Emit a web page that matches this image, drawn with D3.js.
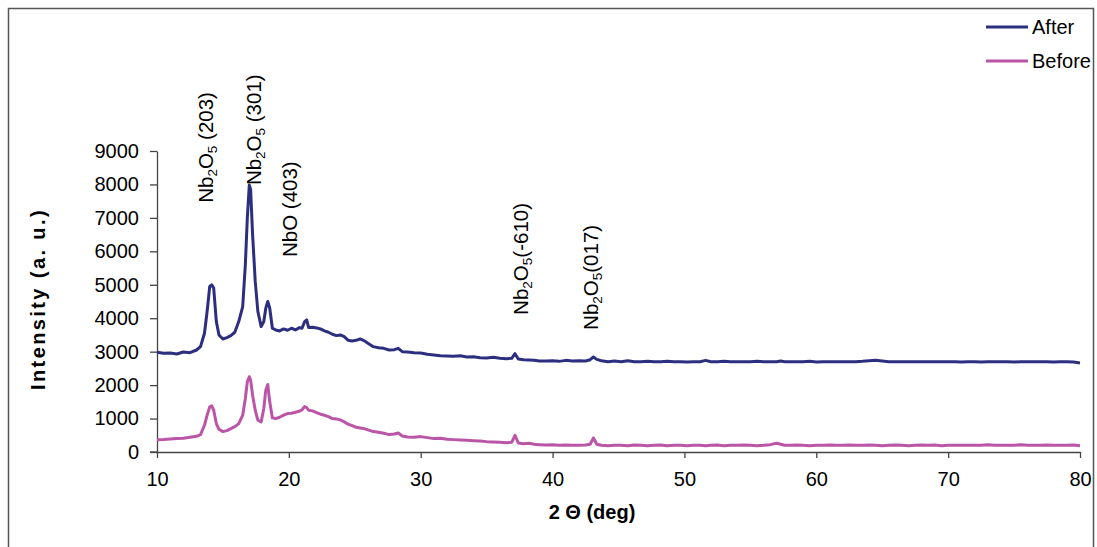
<!DOCTYPE html>
<html>
<head>
<meta charset="utf-8">
<script src="https://cdn.jsdelivr.net/npm/d3@7"></script>
<style>
  body { margin: 0; background: #fff; }
  svg text { font-family: Arial, "Liberation Sans", sans-serif; fill: #000; }
</style>
</head>
<body>
<div class="chart"></div>
<script>
// 2 theta positions (deg), shared by both scans
const twoTheta = [
  10, 10.5, 11, 11.5, 12, 12.5, 13, 13.3, 13.6, 13.8,
  14.0, 14.15, 14.3, 14.5, 14.7, 15.0, 15.3, 15.6, 15.9, 16.2,
  16.5, 16.7, 16.85, 17.0, 17.1, 17.25, 17.45, 17.65, 17.9, 18.1,
  18.25, 18.4, 18.55, 18.75, 19.0, 19.3, 19.6, 19.9, 20.2, 20.5,
  20.8, 21.0, 21.2, 21.35, 21.5, 21.8, 22.1, 22.4, 22.7, 23.0,
  23.3, 23.6, 23.9, 24.2, 24.5, 24.8, 25.1, 25.4, 25.7, 26.0,
  26.4, 26.8, 27.2, 27.6, 28.0, 28.3, 28.6, 29.0, 29.5, 30.0,
  30.5, 31.0, 31.5, 32.0, 32.5, 33.0, 33.5, 34.0, 34.5, 35.0,
  35.5, 36.0, 36.5, 36.9, 37.15, 37.4, 37.8, 38.2, 38.6, 39.0,
  39.5, 40.0, 40.5, 41.0, 41.5, 42.0, 42.5, 42.85, 43.1, 43.35,
  43.7, 44.2, 44.7, 45.2, 45.7, 46.2, 46.7, 47.2, 47.7, 48.2,
  48.7, 49.2, 49.7, 50.2, 50.7, 51.2, 51.6, 52.0, 52.5, 53.0,
  53.5, 54.0, 54.5, 55.0, 55.5, 56.0, 56.5, 57.0, 57.3, 57.6,
  58.0, 58.5, 59.0, 59.5, 60.0, 60.5, 61.0, 61.5, 62.0, 62.5,
  63.0, 63.5, 64.0, 64.5, 65.0, 65.5, 66.0, 66.5, 67.0, 67.5,
  68.0, 68.5, 69.0, 69.5, 70.0, 70.5, 71.0, 71.5, 72.0, 72.5,
  73.0, 73.5, 74.0, 74.5, 75.0, 75.5, 76.0, 76.5, 77.0, 77.5,
  78.0, 78.5, 79.0, 79.5, 80.0
];

// intensity after treatment
const afterIntensity = [
  2980, 2950, 2960, 2930, 2990, 2970, 3050, 3150, 3550, 4200,
  4950, 5000, 4900, 3900, 3500, 3380, 3420, 3480, 3580, 3900,
  4350, 5600, 7000, 7980, 7850, 6500, 5100, 4200, 3750, 3900,
  4300, 4500, 4300, 3700, 3650, 3620, 3680, 3640, 3700, 3650,
  3720, 3700, 3900, 3950, 3720, 3730, 3710, 3680, 3620, 3580,
  3520, 3480, 3500, 3450, 3340, 3320, 3340, 3380, 3330, 3250,
  3150, 3120, 3100, 3050, 3060, 3100, 3000, 2990, 2970, 2960,
  2920, 2900, 2880, 2870, 2860, 2880, 2840, 2850, 2820, 2810,
  2830, 2800, 2790, 2800, 2940, 2780, 2760, 2750, 2740, 2720,
  2720, 2730, 2710, 2740, 2720, 2730, 2720, 2760, 2840, 2770,
  2730, 2700, 2720, 2700, 2730, 2700, 2700, 2710, 2700, 2700,
  2710, 2700, 2700, 2690, 2700, 2700, 2740, 2700, 2700, 2710,
  2700, 2700, 2700, 2700, 2710, 2700, 2700, 2700, 2720, 2700,
  2700, 2700, 2700, 2710, 2690, 2700, 2700, 2700, 2700, 2700,
  2700, 2710, 2730, 2740, 2720, 2700, 2700, 2700, 2700, 2700,
  2700, 2700, 2700, 2700, 2700, 2700, 2690, 2700, 2700, 2690,
  2700, 2700, 2700, 2700, 2690, 2700, 2700, 2700, 2700, 2700,
  2690, 2700, 2700, 2690, 2660
];

// intensity before treatment
const beforeIntensity = [
  370, 375, 390, 400, 410, 440, 470, 520, 800, 1100,
  1350, 1380, 1250, 850, 680, 610, 640, 700, 760, 850,
  1100, 1600, 2100, 2250, 2150, 1700, 1250, 950, 900, 1300,
  1850, 2020, 1500, 1020, 1000, 1040, 1100, 1150, 1160, 1190,
  1220, 1260, 1360, 1330, 1250, 1230, 1180, 1130, 1100, 1060,
  1000, 990, 960, 900, 830, 790, 740, 720, 700, 660,
  610, 590, 560, 520, 540, 570, 480, 450, 440, 460,
  430, 400, 410, 380, 370, 360, 350, 340, 330, 310,
  300, 290, 280, 290, 500, 270, 250, 260, 230, 220,
  210, 220, 200, 210, 200, 200, 210, 230, 420, 230,
  200, 190, 200, 200, 190, 210, 200, 190, 200, 210,
  190, 200, 200, 190, 200, 200, 190, 200, 210, 190,
  200, 200, 210, 200, 190, 200, 220, 260, 230, 200,
  200, 210, 200, 190, 200, 200, 210, 200, 200, 210,
  200, 200, 210, 200, 190, 200, 210, 200, 190, 200,
  210, 200, 210, 190, 200, 200, 200, 200, 200, 200,
  220, 200, 200, 200, 200, 220, 200, 200, 200, 210,
  200, 200, 200, 210, 190
];

const seriesNames = ['After', 'Before'];
const xTicks = [10, 20, 30, 40, 50, 60, 70, 80];
const yTicks = [0, 1000, 2000, 3000, 4000, 5000, 6000, 7000, 8000, 9000];

// peak labels: phase, subscripts, hkl, anchored at (2theta, intensity) where the text starts
const peakPhases = [['Nb', '2', 'O', '5', ' (203)'], ['Nb', '2', 'O', '5', ' (301)'], ['NbO (403)'], ['Nb', '2', 'O', '5', '(-610)'], ['Nb', '2', 'O', '5', '(017)']];
const peakTheta = [13.72, 17.36, 20.09, 37.6, 42.9];
const peakLevel = [7450, 7980, 5830, 4100, 3650];

const width = 1097, height = 547;
const colors = { After: '#2c2f80', Before: '#bb55a8' };

const svg = d3.select('.chart').append('svg').attr('width', width).attr('height', height);

svg.append('rect').attr('width', width).attr('height', height).attr('fill', '#fff');

// outer frame
svg.append('rect')
    .attr('x', 8.5).attr('y', 8.5)
    .attr('width', 1085).attr('height', 560)
    .attr('fill', 'none').attr('stroke', '#555').attr('stroke-width', 1.5);

const x = d3.scaleLinear().domain([10, 80]).range([157, 1080]);
const y = d3.scaleLinear().domain([0, 9000]).range([452, 151]);

// axes
const xAxis = svg.append('g').attr('transform', 'translate(0,452)')
    .call(d3.axisBottom(x).tickValues(xTicks).tickSize(6).tickSizeOuter(0).tickPadding(14));
const yAxis = svg.append('g').attr('transform', 'translate(157,0)')
    .call(d3.axisLeft(y).tickValues(yTicks).tickFormat(d3.format('d')).tickSize(7).tickSizeOuter(0).tickPadding(11));

[xAxis, yAxis].forEach(a => {
    a.selectAll('path, line').attr('stroke', '#444').attr('stroke-width', 1.3);
    a.selectAll('text').style('font-size', '20px').style('font-family', 'Arial, "Liberation Sans", sans-serif');
});
// the x axis line runs a bit left of the y axis, under the 0 tick
svg.append('line').attr('x1', 150).attr('x2', 157).attr('y1', 452).attr('y2', 452)
    .attr('stroke', '#444').attr('stroke-width', 1.3);

// lines
const line = d3.line().x(d => x(d[0])).y(d => y(d[1]));
const seriesData = {
    After: twoTheta.map((t, i) => [t, afterIntensity[i]]),
    Before: twoTheta.map((t, i) => [t, beforeIntensity[i]])
};

seriesNames.forEach(name => {
    svg.append('path')
        .datum(seriesData[name])
        .attr('d', line)
        .attr('fill', 'none')
        .attr('stroke', colors[name])
        .attr('stroke-width', 3)
        .attr('stroke-linejoin', 'round');
});

// peak labels, written bottom to top
peakPhases.forEach((parts, i) => {
    const t = svg.append('text')
        .attr('transform', `translate(${x(peakTheta[i])},${y(peakLevel[i])}) rotate(-90)`)
        .attr('dy', '0.35em')
        .style('font-size', '20.5px');
    parts.forEach((p, j) => {
        const isSub = parts.length > 1 && (j === 1 || j === 3);
        t.append('tspan')
            .attr('baseline-shift', isSub ? '-25%' : null)
            .style('font-size', isSub ? '13.5px' : null)
            .text(p);
    });
});

// axis titles
svg.append('text')
    .attr('x', 592).attr('y', 519)
    .attr('text-anchor', 'middle')
    .style('font-size', '20px').style('font-weight', 'bold')
    .text('2 Θ (deg)');

svg.append('text')
    .attr('transform', 'translate(45,299) rotate(-90)')
    .attr('text-anchor', 'middle')
    .style('font-size', '20px').style('font-weight', 'bold')
    .style('letter-spacing', '2.4px')
    .text('Intensity (a. u.)');

// legend
const legend = svg.append('g');
seriesNames.forEach((name, i) => {
    const ly = 27 + i * 34;
    legend.append('line')
        .attr('x1', 986).attr('x2', 1028).attr('y1', ly).attr('y2', ly)
        .attr('stroke', colors[name]).attr('stroke-width', 3);
    legend.append('text')
        .attr('x', 1032).attr('y', ly).attr('dy', '0.35em')
        .style('font-size', '20px')
        .text(name);
});
</script>
</body>
</html>
